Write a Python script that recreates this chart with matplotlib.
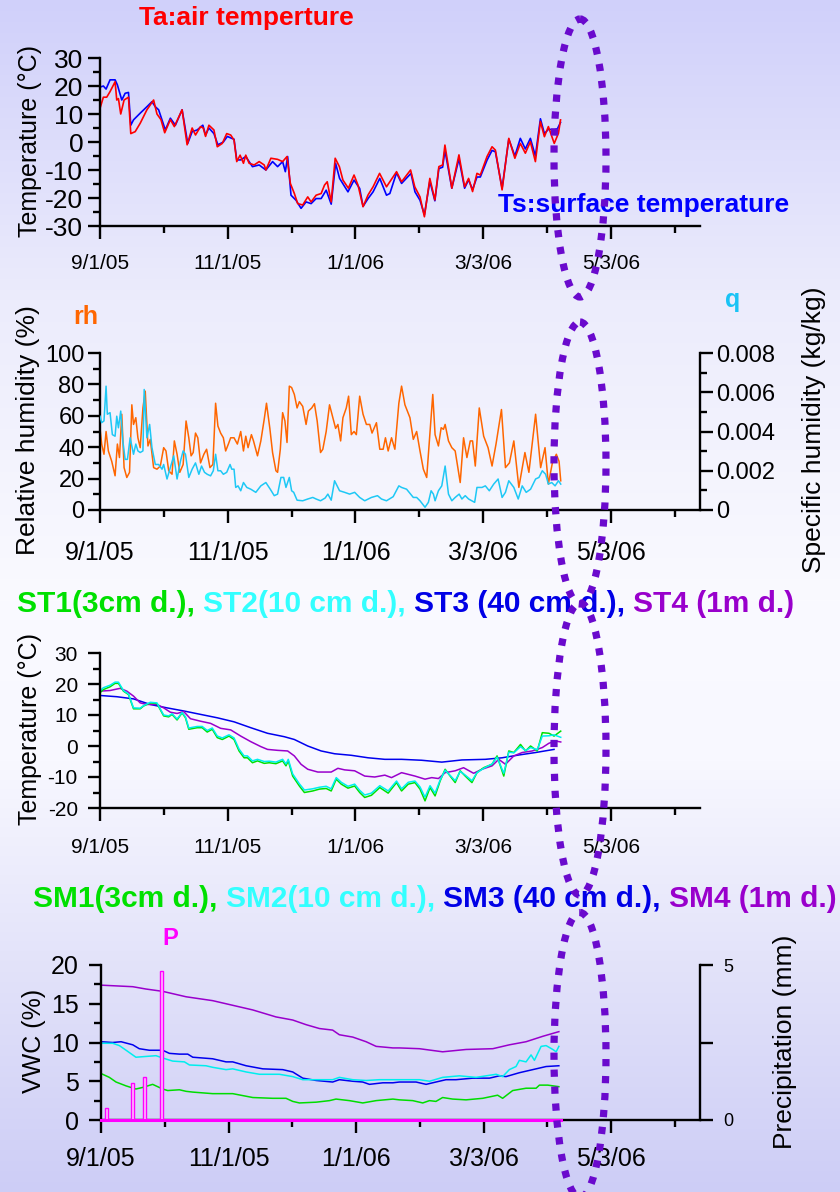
import matplotlib
matplotlib.use('Agg')
import matplotlib.pyplot as plt
import numpy as np
from matplotlib.patches import Ellipse
from matplotlib.ticker import FixedLocator, MultipleLocator, FixedFormatter

plt.rcParams['font.family'] = ['Liberation Sans', 'DejaVu Sans']
plt.rcParams['axes.unicode_minus'] = False

# ---------------- data (day = days since 9/1/05) ----------------
x_major_days = [0, 61, 122, 183, 244]
x_minor_days = [30.5, 91.5, 152.5, 213.5, 274.5]
x_labels = ['9/1/05', '11/1/05', '1/1/06', '3/3/06', '5/3/06']
x_max_day = 286.5

ta_days = [0,1.6,3.2,4.8,7.2,8,8.8,9.9,11.5,13.6,14.7,16.8,19.2,22.4,25.6,27.2,29.1,30.9,33.6,35.5,
           39.2,41.6,44,45.6,48,49.3,50.4,52,54.4,56,58.4,60.5,62.4,64,65.3,66.9,68.5,69.6,71.2,73.6,
           76,78.4,79.2,81.6,84.8,87.2,89.3,90.9,92.8,94.4,96.8,99.2,100.8,103.2,105.6,107.2,108.5,110.4,
           112.3,114.3,116,118.6,121.3,123.2,125.6,128,130.4,133.5,136.8,141.6,144,148.3,150.3,152.8,154.9,
           157.5,159.9,161.8,163.6,164.7,168,171.4,174.1,176,177.9,180,181.6,184.8,187.2,188.8,192,195.2,
           198.1,200.7,203.1,205.5,207.9,210.3,212.2,214.1,216.9,218.9,219.9]
ta_vals = [12,16,16,18,21.5,15,15.5,10,15,16,3,3.7,6.7,11.5,15,10,8,3.3,8,5.5,
           11.5,-1,5,2.5,5.5,5,2,6,4.3,-1.7,-0.5,3,2.5,0.7,-7,-4.7,-7.6,-4.7,-7.6,-8.2,
           -7,-8.2,-10,-5.8,-6.2,-7,-5.2,-14.8,-18.4,-22,-22.5,-19.6,-21.4,-19,-18.4,-15.4,-14.2,-21.4,
           -5.8,-8.8,-13.6,-16.5,-11.8,-15.4,-23.1,-18.9,-16,-11.2,-16,-10.6,-14.2,-10,-16,-19.6,-26.7,
           -13,-20.7,-8.8,-8.2,-1.1,-16.5,-4.6,-16,-13,-17.7,-11.2,-11.8,-5.2,-1.7,-2.9,-17.1,1.3,
           -5.8,-0.5,-4,0.1,-7,7.3,1.9,5.5,-0.5,3.1,7.9]

ts_days = [0,1.6,2.9,4.8,7.2,8.3,10.4,12,13.6,14.7,16,19.2,22.4,24.8,26.4,28,31.2,33.6,36,39.2,
           41.9,44,46.4,49.1,50.4,52,54.4,56.3,58.9,60.8,62.9,64,65.3,67.2,69.6,72.8,76,79.2,82.4,84.8,
           87.2,88.5,89.6,91.2,93.6,96,98.4,100.8,103.2,105.6,108,110.4,112.5,114.4,118.4,121.3,124,125.6,
           128,130.4,133.6,136.8,138.4,141.6,144,148.5,150.4,152.8,154.9,157.5,159.9,161.8,163.6,164.7,
           168,171.4,174.1,176,177.9,180,181.6,184.8,187.2,188.8,192,195.2,198.1,200.7,203.1,205.5,
           207.9,210.3,212.2,214.1,216.9,218.4,219.9]
ts_vals = [19.6,20,18.9,22.2,22.2,20.4,15,17.4,17.7,6,7.9,10.3,12.6,14.4,12.6,11.5,4.3,8.5,6,11.5,
           -0.5,3.7,4.3,6,2.5,5,3,-1,0,2,1.3,1,-6.4,-6.4,-5.2,-8.8,-8.2,-10,-7,-8.8,
           -7,-10.6,-5.2,-19,-20.8,-23.7,-21.4,-22,-20.2,-20.2,-17.2,-22.2,-7.6,-13,-17.8,-13.6,-16.6,-23,
           -20.2,-17.8,-13,-19,-18.4,-11,-14.8,-11.2,-17.8,-20.8,-26,-14,-21,-9.5,-9,-3,
           -16.5,-6,-16.5,-13.5,-17,-12.5,-12.5,-6.5,-3,-3.5,-16.5,1,-5,1.3,-2.5,1.3,
           -5,8.3,3,4.5,4.5,4.7,7]

rh_days = [0,0.8,1.9,2.9,4,5.6,7.2,8.3,9.3,10.4,11.5,12.8,14.1,15.2,16,17.1,18.1,19.2,20.5,21.6,
           22.9,24,25.6,27.2,28.8,30.4,31.5,32.8,34.4,35.5,36.8,38.1,39.7,41.1,42.4,43.5,44.5,45.6,46.7,48,
           49.6,50.9,52.5,53.9,55.2,56.3,57.6,58.9,60,61.3,62.4,64,65.6,67.2,68.5,69.6,70.7,72.3,73.3,75.2,
           76.8,78.4,79.5,81.1,82.4,84,84.8,86.1,87.2,88.3,89.3,90.4,91.5,92.8,94.1,95.2,96.8,98.4,99.5,101.1,
           102.4,103.7,105.3,106.4,108,109.6,111.2,112.5,113.6,114.9,116,117.6,118.7,120,121.3,122.4,124,125.6,
           127.2,128.8,129.9,132,133.6,135.2,136.3,137.6,139.2,140.8,142.7,
           144,145.6,148,149.6,151.2,152.8,154.4,156,157.6,158.9,160,161.6,162.9,164,164.8,166.4,168,169.6,
           172,173.6,175.2,176.8,177.9,179.2,181.1,183.2,185.3,187.2,189.1,191.7,193.6,195.5,197.6,200,
           202.9,204.8,208,210.4,212.5,214.1,216,217.9,219.2,220]
rh_vals = [52,42,35.5,50,37.6,31,21.8,42,33.4,61,27,20.7,24,67,54.5,58.8,46,39.7,65,75.7,
           40.8,45,27,26,28,39.7,37.6,25,22.8,44,35.5,24,29,56.7,46,34.5,36.6,49,46,30,
           35.5,38.7,27,29,68,53.5,49,46,37.6,42,46,46,42,50,37.6,47,39.7,48,44,34.5,
           44,57.7,68,52,36.6,25,24,38.7,62,56.7,43,78.9,78,73.6,65,69,66,54.5,63,65,
           67.7,56.7,36.6,38.7,50,67,58.8,52,54.5,44,58.8,65,72.5,48,50,48,72.5,61,
           54.5,54.5,49,55.6,38.7,38.7,46,37.6,46,38.7,68,
           78.9,67,58.8,45,50,37.6,26,20.7,50,73.6,48,40.8,52.4,51.4,54.5,44,39.7,37.6,
           17.5,46,33.4,44,44,28,65,47,39.7,28,42,64,27,30,44,14.4,
           36.6,24,61,27,39.7,16.5,30,35.5,31,18.6]

q_days = [0,0.8,1.9,2.9,3.5,4.8,5.9,7.2,8,8.8,9.9,10.9,12,13.1,14.4,16,17.1,18.1,19.2,20.5,
          21.1,22.4,23.7,24.8,26.4,28,29.6,30.4,32,33.6,35.2,36.8,38.4,39.7,40.8,42.4,44,45.6,47.2,48.5,
          49.9,51.2,52.8,54.1,55.2,56.3,57.6,58.9,60.5,62.1,62.9,64,64.8,65.9,67.2,68.5,70.1,72,74.4,76.8,
          79.2,81.3,83.2,84.8,86.4,87.7,88.8,90.4,91.5,92.5,94.1,96.8,99.2,101.6,103.2,105.3,107.5,108.8,
          110.4,112,114.4,116.8,119.2,121.6,124,126.4,129.6,132.5,134.4,136.8,140,142.7,
          144,146.4,149.6,151.2,152.8,155.2,156.8,158.1,159.2,160,161.6,163.2,164.8,166.4,168,169.6,
          171.5,172.8,174.4,176,178.9,180,182.4,184,185.9,188,190.1,192,193.6,195.2,197.6,199.7,
          201.6,203.5,205.6,208,209.6,211.2,212.8,214.1,215.7,217.3,218.9,220]
q_vals = [0.00478,0.00445,0.00454,0.00631,0.00488,0.00496,0.00384,0.00376,0.00478,0.00419,
          0.00504,0.00352,0.00258,0.00258,0.00368,0.00284,0.00336,0.00301,0.00293,0.00301,
          0.00614,0.00368,0.00436,0.00318,0.00232,0.00232,0.00208,0.00232,0.00158,0.00216,
          0.00276,0.00158,0.00248,0.00301,0.00284,0.00166,0.00208,0.0024,0.00182,0.00224,
          0.00192,0.00182,0.00174,0.002,0.00284,0.002,0.002,0.00182,0.00192,0.00232,
          0.00208,0.00208,0.00115,0.00123,0.00098,0.0014,0.00115,0.00106,0.0009,0.00123,
          0.0014,0.00106,0.00073,0.00081,0.00166,0.00166,0.00115,0.00166,0.00098,0.0009,
          0.0005,0.00047,0.00056,0.00064,0.00056,0.00047,0.00061,0.00081,
          0.0005,0.00149,0.00098,0.0009,0.00081,0.0009,0.00064,0.00047,0.00064,0.00073,0.00056,0.00047,0.00068,0.00123,
          0.00115,0.00106,0.00064,0.00064,0.00047,0.00014,0.00039,0.00098,0.00081,0.00047,
          0.00098,0.00123,0.00224,0.00081,0.00047,0.00064,0.00081,0.00056,0.00073,0.00056,
          0.00039,0.00115,0.00115,0.00123,0.00098,0.00132,0.00158,0.00064,0.0009,0.00149,
          0.00115,0.00056,0.00123,0.0009,0.00106,0.00158,0.00166,0.002,0.00182,0.00132,
          0.0014,0.00123,0.00149,0.00132]

st1_days = [0,1.6,4.8,7.2,8.8,11.2,13.6,16,19.2,20.8,24,27.2,30.4,32.8,34.4,36.8,39.2,40.8,42.4,46.4,
            48.8,51.2,53.6,56,58.4,61.6,64,66.4,68.8,70.4,72.8,75.2,78.4,80.8,84,87.2,88.8,89.9,92,95.2,
            97.6,101.6,104.8,108,110.4,112.8,115.2,118.4,121.6,124,126.4,129.6,133.6,137.6,141.6,144,147.2,
            150.4,152.8,155.2,157.6,160,162.4,164.8,167.2,169.6,172,174.4,177.6,180,183.2,187.2,189.6,192.8,
            195.2,197.6,200.8,203.2,205.6,208.8,211.2,214.4,216.8,220]
st1_vals = [17.2,18.2,19.1,20.2,20.2,17.7,16.6,12,12,12.9,13.9,13.7,9.7,9.4,10.2,8.4,10.7,9.1,5.4,5.9,
            5.9,4.5,5.4,2.7,2.1,3.2,2.1,-1.6,-3.8,-3.8,-5.4,-4.8,-5.6,-5.4,-5.7,-4.8,-6.4,-4.8,-9.7,-12.9,
            -15,-14.5,-13.9,-13.7,-14.5,-10.7,-12.3,-13.6,-12.9,-15,-16.6,-15.9,-13.4,-15.2,-11.8,-14.5,-12.3,
            -11.8,-13.9,-17.7,-13.4,-16.1,-11.3,-7.5,-9.7,-11.8,-8,-9.7,-11.8,-8.6,-7,-5.9,-3.2,-9.7,
            -1.6,-2.1,0.5,-1.6,0,-1.6,4.3,4.1,3.2,4.8]
st2_vals = [17.8,18.8,19.6,20.6,20.6,17.9,16.8,12.3,12.2,13,14.1,13.9,10,9.7,10.4,8.7,10.8,9.4,5.8,6.3,
            6.3,5,5.8,3.2,2.6,3.6,2.6,-1,-3.2,-3.2,-4.8,-4.3,-5,-4.9,-5.2,-4.3,-5.8,-4.3,-9,-12.2,
            -14.2,-13.8,-13.3,-13,-13.8,-10.2,-11.7,-13,-12.3,-14.3,-15.8,-15.2,-12.8,-14.5,-11.3,-13.8,-11.7,
            -11.3,-13.2,-16.5,-12.8,-15.2,-11,-7.8,-9.5,-11.2,-8.2,-9.4,-11.2,-8.6,-7.2,-5.8,-3.6,-8.8,
            -2,-2.2,-0.2,-1.5,-0.5,-1.2,3.2,3.3,3.6,2.8]
st3_days = [0,8,16,24,32,40,48,56,64,72,80,88,92.8,99.2,105.6,112,120,128,136,144,153.6,163.2,172.8,
            184,192,200,208,216.8]
st3_vals = [16.3,15.9,15.2,13.4,12.3,11.3,10.2,9.1,7.8,5.9,4.1,3,2.1,0,-1.6,-2.5,-3,-3.8,-4.3,-4.3,
            -4.6,-5.2,-4.5,-4.3,-3.8,-2.9,-2.1,-1.1]
st4_days = [0,4.8,9.6,12.8,16,19.2,22.4,27.2,30.4,33.6,36.8,40,43.2,48,52.8,57.6,62.4,67.2,72,76.8,
            80,84.8,89.6,92.8,96,99.2,104,110.4,113.6,116.8,121.6,126.4,131.2,136,139.2,144,150.4,155.2,
            158.4,161.6,164.8,169.6,173.6,178.4,182.4,187.2,190.4,193.6,197.6,201.6,206.4,211.2,214.4,217.6,220]
st4_vals = [17.7,17.9,18.6,17.7,16.1,13.9,13.4,13.4,12.3,10.9,10.5,11.1,8.8,8,7.3,5.7,5.2,3.2,1.4,-0.2,
            -1.1,-1.4,-1.6,-3.2,-5.9,-7.5,-8.4,-8.4,-7.2,-7.7,-8,-9.7,-10,-9.4,-10.2,-8.6,-9.7,-10.7,
            -10.2,-10.5,-8.6,-8,-7,-8.8,-7.5,-6.4,-4.3,-5.9,-3.2,-2.1,-1.6,-0.5,0.9,1.6,1.3]

sm1_days = [0,4,7.2,12,16.7,19.9,24.7,29.5,31.9,37.5,40.7,43.9,53.4,63,72.6,82.1,88.5,91.7,94.9,102.9,
            109.3,112.4,118.8,125.2,131.6,139.6,142.7,149.1,153.9,157.1,160.2,163.4,168.2,174.6,182.6,
            189.7,192.1,196.9,203.3,208.1,209.7,213.7,219]
sm1_vals = [6,5.5,4.9,4.4,4,4.2,4.6,4,3.8,3.9,3.7,3.6,3.4,3.4,2.9,2.8,2.8,2.4,2.2,2.3,
            2.5,2.7,2.5,2.2,2.5,2.7,2.6,2.5,2.2,2.5,2.4,2.9,2.7,2.6,2.8,
            3.2,2.8,3.8,4.1,4.1,4.5,4.5,4.3]
sm2_days = [0,5.6,8.8,12,16.7,21.5,26.3,29.5,34.3,39.9,42.3,50.2,53.4,59.8,63,69.4,75.8,85.3,91.7,96.5,
            104.5,110.8,114,120.4,126.8,133.2,139.6,142.7,152.3,157.1,163.4,171.4,179.4,189,192.1,195.3,
            198.5,200.1,203.3,205.7,207.3,210.5,212.9,216.1,217.7,219]
sm2_vals = [9.9,9.9,9.6,9,8.1,8.2,8.3,8,7.6,7.5,7.1,7,6.8,6.5,6.6,6.2,5.9,5.9,5.6,5.2,
            5.2,5.2,5.5,5.2,5.1,5.2,5.2,5.2,5.2,5,5.5,5.7,5.5,5.9,5.6,6.5,
            6.9,7.7,7.5,8.4,7.7,9.5,9.6,9.1,8.8,9.5]
sm3_days = [0,5.6,9.6,15.2,18.3,23.1,29.5,32.7,37.5,41.5,43.9,53.4,59.8,63,69.4,77.4,86.9,91.7,96.5,
            102.9,110.8,114,120.4,125.2,128.4,134.8,139.6,142.7,150.7,155.5,160.2,165,169.8,177.8,185.8,
            190.5,193.7,200.1,206.5,212.9,219]
sm3_vals = [10.1,10,10.1,9.7,9.2,9,9,8.6,8.5,8.5,8.1,7.9,7.5,7.5,7,6.6,6.5,6.2,5.4,
            5.1,4.9,5.2,5,4.9,4.6,4.8,4.8,4.9,4.9,4.6,4.9,5.2,5.2,5.4,5.4,
            5.7,5.6,6.1,6.5,6.9,7]
sm4_days = [0,15.2,21.5,29.5,40.7,53.4,63,72.6,83.7,91.7,98.1,104.5,110.8,114,120.4,126.8,131.6,139.6,
            142.7,152.3,163.4,174.6,187.4,195.3,203.3,211.3,219]
sm4_vals = [17.4,17.2,16.9,16.6,15.9,15.4,14.8,14.2,13.3,12.9,12.3,11.8,11.6,11,10.7,10.1,9.5,9.3,
            9.3,9.2,8.8,9.1,9.2,9.7,10.1,10.8,11.4]

precip_days = [2.7, 15.2, 21, 29]
precip_mm = [0.4, 1.2, 1.4, 4.8]
precip_last_day = 220

# ---------------- figure ----------------
W, H = 840, 1192
fig = plt.figure(figsize=(W / 100, H / 100), dpi=100)

def fx(px):
    return px / W

def fy(py):
    return 1 - py / H

# background gradient
bg = fig.add_axes([0, 0, 1, 1])
stop_y = [0, 300, 600, 760, 950, 1192]
stop_c = [(208, 208, 250), (236, 236, 252), (250, 250, 255), (248, 248, 255), (228, 228, 250), (205, 205, 246)]
yy = np.arange(H)
grad = np.stack([np.interp(yy, stop_y, [c[i] for c in stop_c]) for i in range(3)], axis=1) / 255.0
bg.imshow(grad[:, None, :], aspect='auto', extent=[0, 1, 0, 1])
bg.set_axis_off()

LW_AX = 1.7

def make_ax(top_px, bot_px, xt_size, xt_pad, left_px=100, right_px=700):
    ax = fig.add_axes([fx(left_px), fy(bot_px), (right_px - left_px) / W, (bot_px - top_px) / H])
    ax.patch.set_visible(False)
    ax.spines['top'].set_visible(False)
    ax.spines['right'].set_visible(False)
    for s in ('left', 'bottom'):
        ax.spines[s].set_linewidth(LW_AX)
    ax.set_xlim(0, x_max_day)
    ax.xaxis.set_major_locator(FixedLocator(x_major_days))
    ax.xaxis.set_minor_locator(FixedLocator(x_minor_days))
    ax.xaxis.set_major_formatter(FixedFormatter(x_labels))
    ax.tick_params(axis='both', which='major', length=9, width=LW_AX, direction='out')
    ax.tick_params(axis='both', which='minor', length=5, width=LW_AX, direction='out')
    ax.tick_params(axis='x', which='major', labelsize=xt_size, pad=xt_pad)
    return ax

def ylab(x_px, y_px, s, size, color='black'):
    fig.text(fx(x_px), fy(y_px), s, rotation=90, rotation_mode='anchor',
             ha='center', va='baseline', fontsize=size, color=color)

def btext(x_px, y_px, s, size, color, ha='center'):
    fig.text(fx(x_px), fy(y_px), s, fontsize=size, color=color, fontweight='bold',
             ha=ha, va='baseline')

def rainbow(x_px, y_px, parts, size):
    r = fig.canvas.get_renderer()
    x = x_px
    gap = 0.278 * size * 100 / 72.0
    for s, c in parts:
        t = fig.text(fx(x), fy(y_px), s, fontsize=size, color=c, fontweight='bold',
                     ha='left', va='baseline')
        bb = t.get_window_extent(r)
        x += bb.width + gap

# ---- Panel 1: air / surface temperature ----
ax1 = make_ax(58, 226, 15, 11.5)
ax1.set_ylim(-30, 30)
ax1.yaxis.set_major_locator(MultipleLocator(10))
ax1.yaxis.set_minor_locator(MultipleLocator(5))
ax1.tick_params(axis='y', which='major', labelsize=19, pad=3)
ax1.plot(ts_days, ts_vals, color='#0000ff', lw=1.2)
ax1.plot(ta_days, ta_vals, color='#ff0000', lw=1.2)
btext(246, 25.5, 'Ta:air temperture', 19, '#ff0000')
btext(644, 212, 'Ts:surface temperature', 19, '#0000ff')
ylab(37, 141, 'Temperature (\u00b0C)', 18)

# ---- Panel 2: humidity ----
ax2 = make_ax(353, 510, 18, 13.5)
ax2.set_ylim(0, 100)
ax2.yaxis.set_major_locator(MultipleLocator(20))
ax2.yaxis.set_minor_locator(MultipleLocator(10))
ax2.tick_params(axis='y', which='major', labelsize=17, pad=2)
ax2.plot(rh_days, rh_vals, color='#ff6600', lw=1.1)
ax2b = ax2.twinx()
ax2b.patch.set_visible(False)
for s in ('top', 'left', 'bottom'):
    ax2b.spines[s].set_visible(False)
ax2b.spines['right'].set_linewidth(LW_AX)
ax2b.set_ylim(0, 0.008)
ax2b.yaxis.set_major_locator(FixedLocator([0, 0.002, 0.004, 0.006, 0.008]))
ax2b.yaxis.set_major_formatter(FixedFormatter(['0', '0.002', '0.004', '0.006', '0.008']))
ax2b.yaxis.set_minor_locator(MultipleLocator(0.001))
ax2b.tick_params(axis='y', which='major', length=9, width=LW_AX, direction='out', labelsize=17, pad=2.5)
ax2b.tick_params(axis='y', which='minor', length=5, width=LW_AX, direction='out')
ax2b.plot(q_days, q_vals, color='#1ec8f5', lw=1.1)
btext(86, 324, 'rh', 18, '#ff6600')
btext(733, 307, 'q', 18, '#19c3f5')
ylab(35, 430, 'Relative humidity (%)', 19)
ylab(821, 430, 'Specific humidity (kg/kg)', 19)

# ---- Panel 3: soil temperature ----
ax3 = make_ax(653, 808, 15, 12.5)
ax3.set_ylim(-20, 30)
ax3.yaxis.set_major_locator(MultipleLocator(10))
ax3.yaxis.set_minor_locator(MultipleLocator(5))
ax3.tick_params(axis='y', which='major', labelsize=15, pad=7)
ax3.plot(st3_days, st3_vals, color='#0000ee', lw=1.1)
ax3.plot(st4_days, st4_vals, color='#9900cc', lw=1.1)
ax3.plot(st1_days, st1_vals, color='#00e000', lw=1.1)
ax3.plot(st1_days, st2_vals, color='#00eeee', lw=1.1)
rainbow(17, 612, [('ST1(3cm d.),', '#00e000'), ('ST2(10 cm d.),', '#33ffff'),
                  ('ST3 (40 cm d.),', '#0000e6'), ('ST4 (1m d.)', '#9900cc')], 21.5)
ylab(37, 729, 'Temperature (\u00b0C)', 18)

# ---- Panel 4: soil moisture & precipitation ----
ax4 = make_ax(965, 1120, 18, 10.5, left_px=101)
ax4.set_ylim(0, 20)
ax4.yaxis.set_major_locator(MultipleLocator(5))
ax4.yaxis.set_minor_locator(MultipleLocator(2.5))
ax4.tick_params(axis='y', which='major', labelsize=18, pad=7)
ax4.plot(sm4_days, sm4_vals, color='#9900cc', lw=1.1)
ax4.plot(sm3_days, sm3_vals, color='#0000ee', lw=1.1)
ax4.plot(sm2_days, sm2_vals, color='#00eeee', lw=1.1)
ax4.plot(sm1_days, sm1_vals, color='#00dd00', lw=1.1)
ax4b = ax4.twinx()
ax4b.patch.set_visible(False)
for s in ('top', 'left', 'bottom'):
    ax4b.spines[s].set_visible(False)
ax4b.spines['right'].set_linewidth(LW_AX)
ax4b.set_ylim(0, 5)
ax4b.yaxis.set_major_locator(FixedLocator([0, 5]))
ax4b.yaxis.set_minor_locator(FixedLocator([2.5]))
ax4b.tick_params(axis='y', which='major', length=9, width=LW_AX, direction='out', labelsize=13, pad=7.5)
ax4b.tick_params(axis='y', which='minor', length=9, width=LW_AX, direction='out')
ax4b.bar(precip_days, precip_mm, width=1.4, facecolor='#ffc0ff', edgecolor='#ff00ff', lw=1.0, zorder=3)
ax4b.plot([0, precip_last_day], [0, 0], color='#ff00ff', lw=2.2, zorder=3, clip_on=False)
rainbow(33, 907, [('SM1(3cm d.),', '#00e000'), ('SM2(10 cm d.),', '#33ffff'),
                  ('SM3 (40 cm d.),', '#0000e6'), ('SM4 (1m d.)', '#9900cc')], 21.5)
btext(170.5, 945, 'P', 17, '#ff00ff')
ylab(41, 1041, 'VWC (%)', 18)
ylab(792, 1042, 'Precipitation (mm)', 19)

# ---- dotted ellipses overlay ----
ov = fig.add_axes([0, 0, 1, 1], zorder=20)
ov.set_xlim(0, W)
ov.set_ylim(H, 0)
ov.set_axis_off()
ov.patch.set_visible(False)
for cy, hh in [(158, 278), (463, 282), (749, 292), (1055, 285)]:
    ov.add_patch(Ellipse((580, cy), 52, hh, fill=False, edgecolor='#6a0acd', lw=5.2,
                         linestyle=(0, (1, 1.35))))

fig.savefig('out.png', dpi=100)
